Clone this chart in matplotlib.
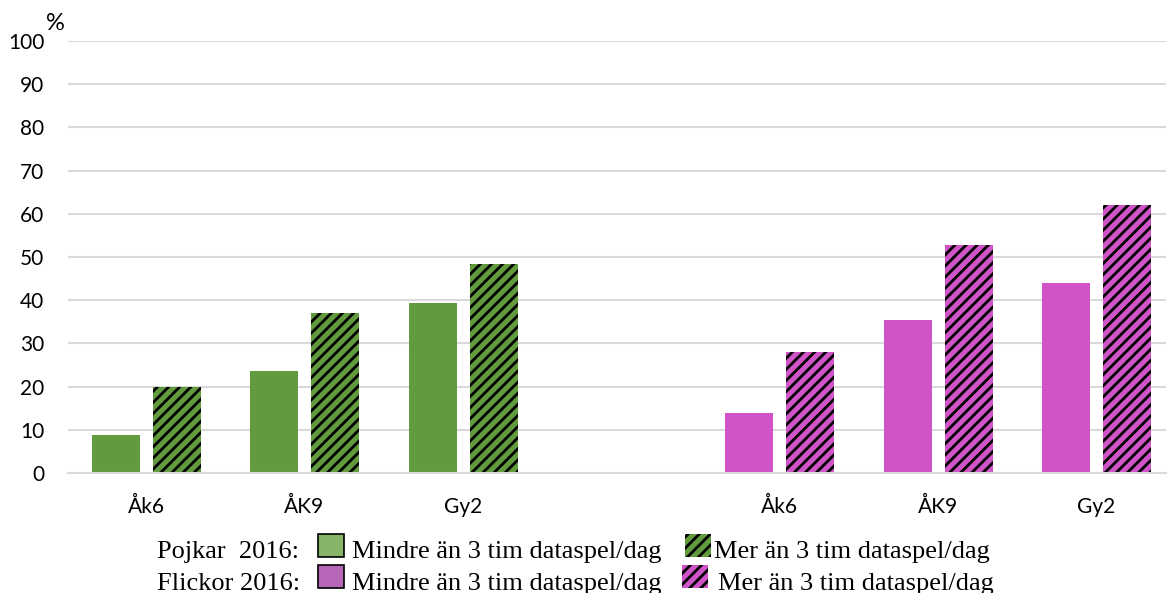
import numpy as np
import matplotlib
matplotlib.use("Agg")
import matplotlib.pyplot as plt
from matplotlib.patches import Rectangle

# data
slots = [0, 1, 2, 4, 5, 6]
labels = ["Åk6", "ÅK9", "Gy2", "Åk6", "ÅK9", "Gy2"]
mindre = [8.8, 23.7, 39.3, 14.0, 35.5, 44.0]
mer = [20.0, 37.0, 48.4, 28.0, 52.8, 62.0]
colors = ["#629B3E"] * 3 + ["#D054C8"] * 3

plt.rcParams["hatch.linewidth"] = 2.0
W, H = 1168, 593
fig = plt.figure(figsize=(W / 100, H / 100), dpi=100)
ax = fig.add_axes([68 / W, 1 - 473 / H, (1166 - 68) / W, (473 - 41) / H])

bw = 0.303
x = np.array(slots, dtype=float)
ax.bar(x - 0.19, mindre, width=bw, color=colors, linewidth=0, zorder=2)
ax.bar(x + 0.196, mer, width=bw, color=colors, edgecolor="black",
       hatch="///", linewidth=0, zorder=2)

ax.set_xlim(-0.493, 6.442)
ax.set_ylim(0, 100)
ax.set_yticks(range(0, 101, 10))
ax.set_xticks(x)
ax.set_xticklabels(labels)
ax.grid(axis="y", color="#D9D9D9", linewidth=1.5, zorder=0)
for s in ["top", "right", "left"]:
    ax.spines[s].set_visible(False)
ax.spines["bottom"].set_color("#D9D9D9")
ax.spines["bottom"].set_linewidth(1.5)
ax.tick_params(axis="both", length=0, labelsize=15, labelcolor="black")
ax.tick_params(axis="y", pad=17)
ax.tick_params(axis="x", pad=17)
for t in ax.get_xticklabels() + ax.get_yticklabels():
    t.set_family("Lato")

fig.text(46 / W, 1 - 24 / H, "%", fontsize=17, family="Lato", ha="left", va="center")

# legend
serif = "Liberation Serif"
rows = [
    (558, 534, "Pojkar  2016:", "#86B56A", "#629B3E", 685, 714),
    (590, 565, "Flickor 2016:", "#B767B8", "#D054C8", 682, 718),
]
for yb, ys, name, swc, hc, hx, tx in rows:
    fig.text(157 / W, 1 - yb / H, name, fontsize=19, family=serif, va="baseline")
    fig.patches.append(Rectangle((318 / W, 1 - (ys + 23) / H), 26 / W, 23 / H,
                                 transform=fig.transFigure, facecolor=swc,
                                 edgecolor="black", linewidth=1.2))
    fig.text(352 / W, 1 - yb / H, "Mindre än 3 tim dataspel/dag", fontsize=19,
             family=serif, va="baseline")
    fig.patches.append(Rectangle((hx / W, 1 - (ys + 23) / H), 26 / W, 23 / H,
                                 transform=fig.transFigure, facecolor=hc,
                                 edgecolor="black", hatch="///", linewidth=0))
    fig.text(tx / W, 1 - yb / H, "Mer än 3 tim dataspel/dag", fontsize=19,
             family=serif, va="baseline")

fig.savefig("out.png", dpi=100)
